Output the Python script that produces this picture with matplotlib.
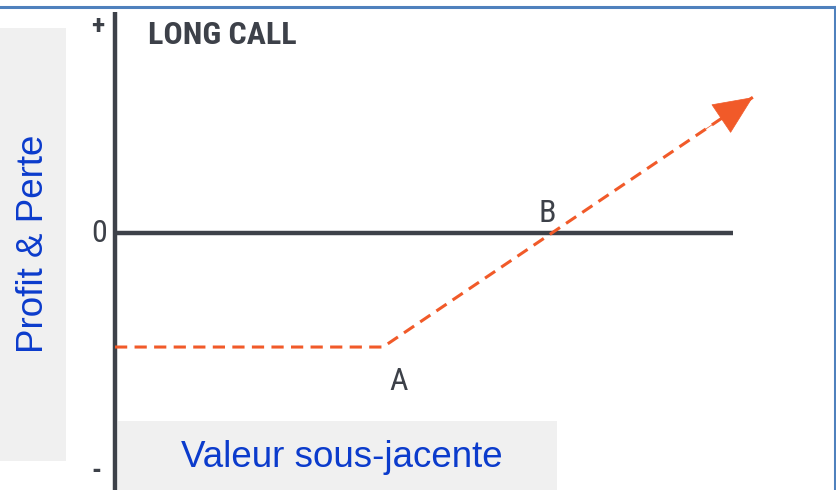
import matplotlib
matplotlib.use("Agg")
import matplotlib.pyplot as plt
from matplotlib.patches import Rectangle
from matplotlib.lines import Line2D

# ---- data (long call payoff) ----
prices = [0, 100, 238]          # underlying value
pnl = [-63, -63, 75]            # profit & loss
strike = 100                    # point A
breakeven = 163                 # point B
title = "LONG CALL"
xlabel = "Valeur sous-jacente"
ylabel = "Profit & Perte"
tick_labels = ["+", "0", "-"]
point_labels = ["A", "B"]

W, H = 837, 490
fig = plt.figure(figsize=(W / 100, H / 100), dpi=100)
ax = fig.add_axes([0, 0, 1, 1])
ax.set_axis_off()

kx, ky = 2.68, 1.81   # pixels per unit
x0px, y0px = 115, 233
ax.set_xlim(-x0px / kx, (W - x0px) / kx)
ax.set_ylim(-(H - y0px) / ky, y0px / ky)

narrow = ["Liberation Sans Narrow", "Roboto Condensed", "Roboto", "DejaVu Sans"]
sans = ["Liberation Sans", "DejaVu Sans"]
dark = "#3d4149"
orange = "#f15a29"
blue_txt = "#0b3bcc"

def fx(px):
    return px / W

def fy(py):
    return 1 - py / H

# grey label boxes
ax.add_patch(Rectangle((fx(0), fy(461)), fx(66), (461 - 28) / H,
                       transform=fig.transFigure, color="#f0f0f0", zorder=0, lw=0))
ax.add_patch(Rectangle((fx(118), fy(490)), fx(557 - 118), (490 - 421) / H,
                       transform=fig.transFigure, color="#f0f0f0", zorder=0, lw=0))

# blue frame (top and right)
fig.add_artist(Line2D([0, 1], [fy(7), fy(7)], transform=fig.transFigure,
                      color="#4f81bd", lw=2.2))
fig.add_artist(Line2D([fx(835), fx(835)], [fy(7), 0], transform=fig.transFigure,
                      color="#4f81bd", lw=2.2))

# axes lines
ytop = (y0px - 12) / ky
ybot = -(H - y0px) / ky
ax.vlines(0, ybot, ytop, color=dark, lw=3.2, zorder=3)
ax.hlines(0, 0, (733 - x0px) / kx, color=dark, lw=3.2, zorder=3)

# payoff line
ax.plot(prices, pnl, color=orange, lw=2.2, linestyle=(0, (4, 2.4)),
        dash_capstyle="butt", zorder=4)
# arrow head
dx = prices[-1] - prices[-2]
dy = pnl[-1] - pnl[-2]
ax.annotate("", xy=(prices[-1], pnl[-1]),
            xytext=(prices[-1] - dx * 0.15, pnl[-1] - dy * 0.15),
            arrowprops=dict(arrowstyle="-|>,head_length=0.47,head_width=0.21",
                            color=orange, lw=0.5, mutation_scale=57,
                            shrinkA=0, shrinkB=0), zorder=5)

# tick-like labels
ax.text(-17.5 / kx, (y0px - 27) / ky, tick_labels[0], ha="center", va="center",
        fontsize=20, fontweight="bold", color=dark, family=narrow)
ax.text(-15.5 / kx, 0, tick_labels[1], ha="center", va="center",
        fontsize=23, color=dark, family=narrow)
ax.text(-19 / kx, -(471 - y0px) / ky, tick_labels[2], ha="center", va="center",
        fontsize=20, fontweight="bold", color=dark, family=narrow)

# point labels
ax.text(strike + 16 / kx, pnl[0] - 43 / ky, point_labels[0], ha="center",
        va="baseline", fontsize=23, color=dark, family=narrow)
ax.text(breakeven - 5 / kx, 11 / ky, point_labels[1], ha="center",
        va="baseline", fontsize=23, color=dark, family=narrow)

# title
fig.text(fx(148), fy(44), title, ha="left", va="baseline", fontsize=23,
         fontweight="bold", color=dark, family=narrow)

# axis labels
fig.text(fx(341.5), fy(467), xlabel, ha="center", va="baseline", fontsize=26.5,
         color=blue_txt, family=sans)
fig.text(fx(34), fy(244), ylabel, ha="center", va="center", rotation=90,
         fontsize=26.5, color=blue_txt, family=sans)

fig.savefig("out.png", dpi=100)
